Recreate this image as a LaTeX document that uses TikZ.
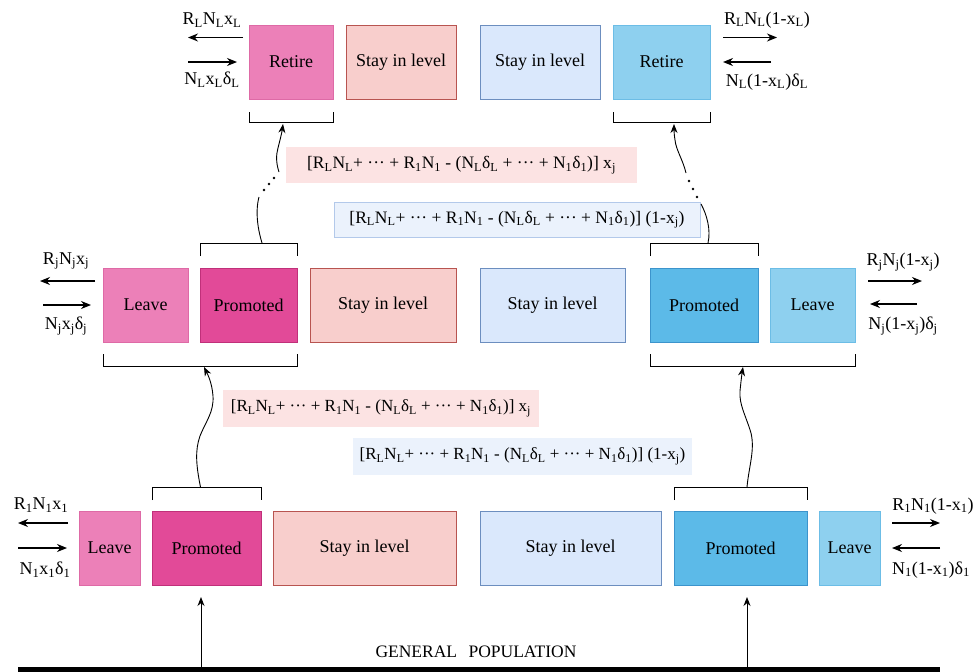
\documentclass[tikz,border=0pt]{standalone}
\usepackage{fontspec}
\setmainfont{Liberation Serif}
\usetikzlibrary{arrows.meta}
\definecolor{pkLight}{HTML}{EC80B8}
\definecolor{pkLightB}{HTML}{DE6AA6}
\definecolor{pkDark}{HTML}{E24A98}
\definecolor{pkDarkB}{HTML}{C0307A}
\definecolor{pkStay}{HTML}{F8CECC}
\definecolor{pkStayB}{HTML}{B85450}
\definecolor{blStay}{HTML}{DAE8FC}
\definecolor{blStayB}{HTML}{6C8EBF}
\definecolor{blDark}{HTML}{5CBAE8}
\definecolor{blDarkB}{HTML}{3C94CC}
\definecolor{blLight}{HTML}{8ED0EF}
\definecolor{blLightB}{HTML}{6CBDE6}
\definecolor{fPink}{HTML}{FCE3E3}
\definecolor{fBlue}{HTML}{EBF2FC}
\definecolor{fBlueB}{HTML}{B3C9EA}
\newcommand\sbs[1]{\textsubscript{#1}}
\newcommand\mdots{···}
\begin{document}
\begin{tikzpicture}[x=1pt,y=-1pt,
  box/.style={draw, line width=0.8pt, minimum height=74pt, inner sep=0pt, outer sep=0pt,
    font=\fontsize{18}{20}\selectfont},
  lbl/.style={inner sep=0pt, font=\fontsize{18}{20}\selectfont},
  brk/.style={line width=0.9pt},
  harr/.style={-{Stealth[length=10pt,width=8pt]}, line width=1.2pt},
  carr/.style={-{Stealth[length=9pt,width=7pt]}, line width=0.9pt},
  fbox/.style={inner sep=0pt, outer sep=0pt, minimum height=36pt}
]
\useasboundingbox (0,0) rectangle (978,672);

% ---------- top row ----------
\node[box, fill=pkLight, draw=pkLightB, minimum width=84pt] (retL) at (291,62) {Retire};
\node[box, fill=pkStay, draw=pkStayB, minimum width=110pt] (stayTL) at (401,62) {Stay in level};
\node[box, fill=blStay, draw=blStayB, minimum width=120pt] (stayTR) at (540,62) {Stay in level};
\node[box, fill=blLight, draw=blLightB, minimum width=97pt] (retR) at (661.5,62) {Retire};

% ---------- middle row ----------
\node[box, fill=pkLight, draw=pkLightB, minimum width=85pt] (leaveML) at (145.5,305) {Leave};
\node[box, fill=pkDark, draw=pkDarkB, minimum width=97pt] (promML) at (248.5,305) {Promoted};
\node[box, fill=pkStay, draw=pkStayB, minimum width=146pt] (stayML) at (383,305) {Stay in level};
\node[box, fill=blStay, draw=blStayB, minimum width=145pt] (stayMR) at (552.5,305) {Stay in level};
\node[box, fill=blDark, draw=blDarkB, minimum width=108pt] (promMR) at (704,305) {Promoted};
\node[box, fill=blLight, draw=blLightB, minimum width=85pt] (leaveMR) at (812.5,305) {Leave};

% ---------- bottom row ----------
\node[box, fill=pkLight, draw=pkLightB, minimum width=61pt] (leaveBL) at (109.5,548) {Leave};
\node[box, fill=pkDark, draw=pkDarkB, minimum width=109pt] (promBL) at (206.5,548) {Promoted};
\node[box, fill=pkStay, draw=pkStayB, minimum width=183pt] (stayBL) at (364.5,548) {Stay in level};
\node[box, fill=blStay, draw=blStayB, minimum width=181pt] (stayBR) at (570.5,548) {Stay in level};
\node[box, fill=blDark, draw=blDarkB, minimum width=133pt] (promBR) at (740.5,548) {Promoted};
\node[box, fill=blLight, draw=blLightB, minimum width=61pt] (leaveBR) at (849.5,548) {Leave};

% ---------- brackets ----------
\draw[brk] ([yshift=-13pt]retL.south west) -- ([yshift=-23pt]retL.south west) -- ([yshift=-23pt]retL.south east) -- ([yshift=-13pt]retL.south east);
\draw[brk] ([yshift=-13pt]retR.south west) -- ([yshift=-23pt]retR.south west) -- ([yshift=-23pt]retR.south east) -- ([yshift=-13pt]retR.south east);
\draw[brk] ([yshift=12pt]promML.north west) -- ([yshift=25pt]promML.north west) -- ([yshift=25pt]promML.north east) -- ([yshift=12pt]promML.north east);
\draw[brk] ([yshift=12pt]promMR.north west) -- ([yshift=25pt]promMR.north west) -- ([yshift=25pt]promMR.north east) -- ([yshift=12pt]promMR.north east);
\draw[brk] ([yshift=-12pt]leaveML.south west) -- ([yshift=-24pt]leaveML.south west) -- ([yshift=-24pt]promML.south east) -- ([yshift=-12pt]promML.south east);
\draw[brk] ([yshift=-12pt]promMR.south west) -- ([yshift=-24pt]promMR.south west) -- ([yshift=-24pt]leaveMR.south east) -- ([yshift=-12pt]leaveMR.south east);
\draw[brk] ([yshift=11pt]promBL.north west) -- ([yshift=24pt]promBL.north west) -- ([yshift=24pt]promBL.north east) -- ([yshift=11pt]promBL.north east);
\draw[brk] ([yshift=11pt]promBR.north west) -- ([yshift=24pt]promBR.north west) -- ([yshift=24pt]promBR.north east) -- ([yshift=11pt]promBR.north east);

% ---------- formula boxes ----------
\node[fbox, fill=fPink, minimum width=351pt, font=\fontsize{17.5}{19}\selectfont] (fTP) at (461.5,165)
  {[R\sbs{L}N\sbs{L}+ \mdots\ + R\sbs{1}N\sbs{1} - (N\sbs{L}δ\sbs{L} + \mdots\ + N\sbs{1}δ\sbs{1})] x\sbs{j}};
\node[fbox, fill=fBlue, draw=fBlueB, line width=0.6pt, minimum width=366pt, minimum height=35pt, font=\fontsize{17.5}{19}\selectfont] (fTB) at (517,219.5)
  {[R\sbs{L}N\sbs{L}+ \mdots\ + R\sbs{1}N\sbs{1} - (N\sbs{L}δ\sbs{L} + \mdots\ + N\sbs{1}δ\sbs{1})] (1-x\sbs{j})};
\node[fbox, fill=fPink, minimum width=316pt, minimum height=37pt, font=\fontsize{17}{19}\selectfont] (fMP) at (381,408.5)
  {[R\sbs{L}N\sbs{L}+ \mdots\ + R\sbs{1}N\sbs{1} - (N\sbs{L}δ\sbs{L} + \mdots\ + N\sbs{1}δ\sbs{1})] x\sbs{j}};
\node[fbox, fill=fBlue, minimum width=339pt, minimum height=37pt, font=\fontsize{17}{19}\selectfont] (fMB) at (522.5,456.5)
  {[R\sbs{L}N\sbs{L}+ \mdots\ + R\sbs{1}N\sbs{1} - (N\sbs{L}δ\sbs{L} + \mdots\ + N\sbs{1}δ\sbs{1})] (1-x\sbs{j})};

% ---------- side labels and arrows ----------
% top left
\node[lbl] (tlA) at (212,20) {R\sbs{L}N\sbs{L}x\sbs{L}};
\node[lbl] (tlB) at (212,80) {N\sbs{L}x\sbs{L}δ\sbs{L}};
\coordinate (tl1) at (243,37.5); \coordinate (tl2) at (188,37.5);
\coordinate (tl3) at (188,62); \coordinate (tl4) at (237,62);
\draw[harr] (tl1) -- (tl2);
\draw[harr] (tl3) -- (tl4);
% top right
\node[lbl] (trA) at (767,20) {R\sbs{L}N\sbs{L}(1-x\sbs{L})};
\node[lbl] (trB) at (767,82) {N\sbs{L}(1-x\sbs{L})δ\sbs{L}};
\coordinate (tr1) at (723,37.5); \coordinate (tr2) at (777,37.5);
\coordinate (tr3) at (771,62); \coordinate (tr4) at (723,62);
\draw[harr] (tr1) -- (tr2);
\draw[harr] (tr3) -- (tr4);
% middle left
\node[lbl] (mlA) at (66,261) {R\sbs{j}N\sbs{j}x\sbs{j}};
\node[lbl] (mlB) at (66,326) {N\sbs{j}x\sbs{j}δ\sbs{j}};
\coordinate (ml1) at (95,281); \coordinate (ml2) at (40,281);
\coordinate (ml3) at (43,305); \coordinate (ml4) at (91,305);
\draw[harr] (ml1) -- (ml2);
\draw[harr] (ml3) -- (ml4);
% middle right
\node[lbl] (mrA) at (903,262) {R\sbs{j}N\sbs{j}(1-x\sbs{j})};
\node[lbl] (mrB) at (903,326) {N\sbs{j}(1-x\sbs{j})δ\sbs{j}};
\coordinate (mr1) at (868,281); \coordinate (mr2) at (922,281);
\coordinate (mr3) at (917,304); \coordinate (mr4) at (870,304);
\draw[harr] (mr1) -- (mr2);
\draw[harr] (mr3) -- (mr4);
% bottom left
\node[lbl] (blA) at (41,505) {R\sbs{1}N\sbs{1}x\sbs{1}};
\node[lbl] (blB) at (45,570) {N\sbs{1}x\sbs{1}δ\sbs{1}};
\coordinate (bl1) at (68,523); \coordinate (bl2) at (18,523);
\coordinate (bl3) at (18,548); \coordinate (bl4) at (67,548);
\draw[harr] (bl1) -- (bl2);
\draw[harr] (bl3) -- (bl4);
% bottom right
\node[lbl] (brA) at (933,506) {R\sbs{1}N\sbs{1}(1-x\sbs{1})};
\node[lbl] (brB) at (931,570) {N\sbs{1}(1-x\sbs{1})δ\sbs{1}};
\coordinate (br1) at (892,523); \coordinate (br2) at (940,523);
\coordinate (br3) at (940,548); \coordinate (br4) at (892,548);
\draw[harr] (br1) -- (br2);
\draw[harr] (br3) -- (br4);

% ---------- general population ----------
\node[inner sep=0pt, font=\fontsize{17.5}{19}\selectfont] (gp) at (476,652) {GENERAL\hspace{7pt} POPULATION};
\coordinate (gpL) at (18,669.5); \coordinate (gpR) at (940,669.5);
\draw[line width=5pt] (gpL) -- (gpR);
\coordinate (gA) at (201,668); \coordinate (gAe) at (201,597);
\coordinate (gB) at (747,668); \coordinate (gBe) at (747,597);
\draw[carr, line width=1pt] (gA) -- (gAe);
\draw[carr, line width=1pt] (gB) -- (gBe);

% ---------- curvy arrows bottom -> middle ----------
\coordinate (cL0) at (200.5,487); \coordinate (cL1) at (204,367);
\draw[carr] (cL0) .. controls (196,465) and (195,450) .. (200,436)
  .. controls (206,421) and (214,412) .. (213,396)
  .. controls (212,382) and (207,373) .. (cL1);
\coordinate (cR0) at (747,487); \coordinate (cR1) at (743,367);
\draw[carr] (cR0) .. controls (749,466) and (755,450) .. (751,433)
  .. controls (746,416) and (739,405) .. (740,391)
  .. controls (741,381) and (742,373) .. (cR1);

% ---------- curvy dotted arrows middle -> top ----------
\coordinate (dL0) at (262,243); \coordinate (dL1) at (283,124);
\draw[line width=0.9pt] (dL0) .. controls (258,230) and (255,212) .. (259,197);
\fill (264,190) circle (1.3pt) (269,184) circle (1.3pt) (274,178) circle (1.3pt);
\draw[carr] (279,172) .. controls (276,163) and (276,155) .. (278,148)
  .. controls (280,140) and (282,132) .. (dL1);
\coordinate (dR0) at (708,243); \coordinate (dR1) at (674,124);
\draw[line width=0.9pt] (dR0) .. controls (711,230) and (707,215) .. (701,204);
\fill (697,197) circle (1.3pt) (693,189) circle (1.3pt) (689,181) circle (1.3pt);
\draw[carr] (686,173) .. controls (683,160) and (676,150) .. (675,140)
  .. controls (674,134) and (674,129) .. (dR1);
\end{tikzpicture}
\end{document}
